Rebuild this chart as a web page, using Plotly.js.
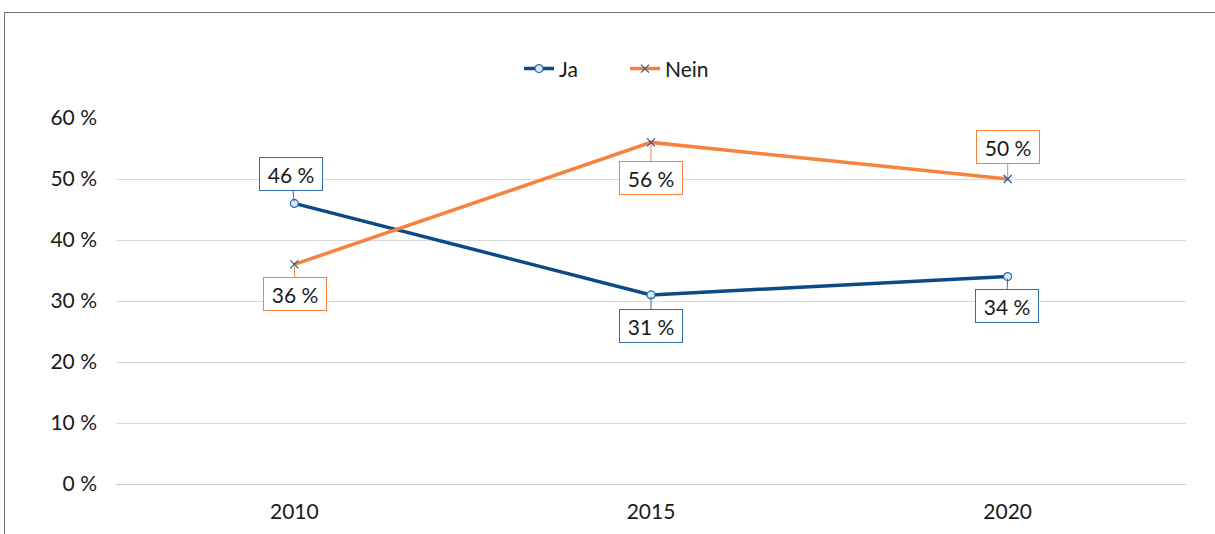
<!DOCTYPE html>
<html><head><meta charset="utf-8">
<script src="https://cdn.plot.ly/plotly-3.0.1.min.js"></script>
<style>
body{margin:0;overflow:hidden;background:#fff}
#frame{position:absolute;left:4px;top:12px;width:1400px;height:700px;border-left:1px solid #6f6f6f;border-top:1px solid #6f6f6f;pointer-events:none;z-index:10}
</style></head>
<body>
<div id="chart" style="width:1215px;height:534px;"></div>
<div id="frame"></div>
<script>
const years = ['2010', '2015', '2020'];
const jaValues = [46, 31, 34];
const neinValues = [36, 56, 50];
const seriesNames = ['Ja', 'Nein'];
const yTickVals = [0, 10, 20, 30, 40, 50, 60];
const yTickText = ['0 %', '10 %', '20 %', '30 %', '40 %', '50 %', '60 %'];
const jaLabelOffsets = [[-3, -29], [0, 31], [-1, 29]];
const neinLabelOffsets = [[1, 30], [0, 36], [0, -32]];

const blue = '#0B4A87';
const orange = '#F6823D';
const font = 'Lato, "Open Sans", sans-serif';
const fs = 21;

const traces = [
  {x: years, y: jaValues, name: seriesNames[0], type: 'scatter', mode: 'lines+markers',
   line: {color: blue, width: 3.5},
   marker: {symbol: 'circle', size: 8, color: '#DCE8F5', line: {color: '#2F6EAE', width: 1.2}}},
  {x: years, y: neinValues, name: seriesNames[1], type: 'scatter', mode: 'lines+markers',
   line: {color: orange, width: 3.5},
   marker: {symbol: 'x-thin', size: 8, color: '#2F5E96', line: {color: '#2F5E96', width: 1.3}}}
];

const annotations = [];
function addLabels(vals, offs, col) {
  vals.forEach((v, i) => {
    annotations.push({x: i, y: v, xref: 'x', yref: 'y', text: v + ' %',
      showarrow: true, arrowhead: 0, arrowwidth: 1, arrowcolor: col,
      ax: offs[i][0], ay: offs[i][1], standoff: 2,
      width: 52, height: 22,
      bordercolor: col, borderwidth: 1, borderpad: 5, bgcolor: '#fff',
      font: {family: font, size: fs, color: '#1a1a1a'}});
  });
}
addLabels(jaValues, jaLabelOffsets, '#2F6EAE');
addLabels(neinValues, neinLabelOffsets, '#F6823D');

const layout = {
  width: 1215, height: 534,
  margin: {l: 116, r: 29, t: 118, b: 50},
  paper_bgcolor: '#fff', plot_bgcolor: '#fff',
  font: {family: font, size: fs, color: '#1a1a1a'},
  showlegend: true,
  legend: {orientation: 'h', x: 0.4757, xanchor: 'center', y: 1.134, yanchor: 'middle',
           font: {family: font, size: fs, color: '#1a1a1a'}, entrywidth: 61},
  xaxis: {type: 'category', range: [-0.5, 2.5], showgrid: false, zeroline: false,
          showline: true, linecolor: '#c8c8c8', linewidth: 1, ticks: '', ticklabelstandoff: 9,
          tickfont: {family: font, size: fs, color: '#1a1a1a'}},
  yaxis: {range: [0, 60], tickvals: yTickVals, ticktext: yTickText,
          showgrid: true, gridcolor: '#d9d9d9', gridwidth: 1, zeroline: false,
          showline: false, ticks: '', ticklen: 0, ticklabelstandoff: 18,
          tickfont: {family: font, size: fs, color: '#1a1a1a'}},
  annotations: annotations
};
Plotly.newPlot('chart', traces, layout, {displayModeBar: false, staticPlot: true});
</script>
</body></html>
